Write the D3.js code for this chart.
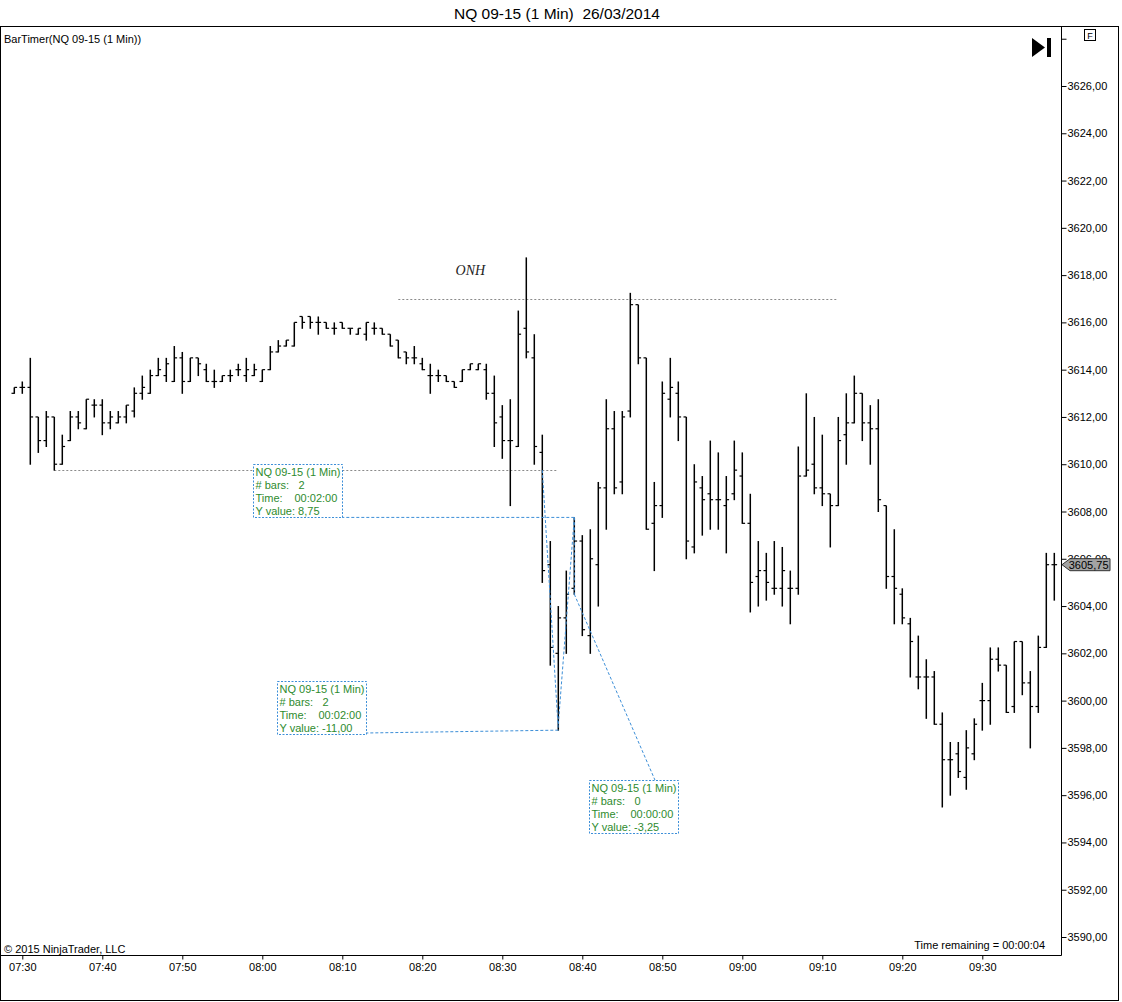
<!DOCTYPE html>
<html><head><meta charset="utf-8">
<script src="https://cdn.jsdelivr.net/npm/d3@7"></script>
<style>
html,body{margin:0;padding:0;background:#fff;}
svg{display:block;font-family:"Liberation Sans",Arial,sans-serif;}
</style></head><body>
<svg id="chart" width="1122" height="1002"></svg>
<script>
// ---------- DATA ----------
const chartTitle = "NQ 09-15 (1 Min)  26/03/2014";
const indicatorLabel = "BarTimer(NQ 09-15 (1 Min))";
const copyrightLabel = "© 2015 NinjaTrader, LLC";
const timerLabel = "Time remaining = 00:00:04";
const instrument = "NQ 09-15 (1 Min)";

const times = ["07:29","07:30","07:31","07:32","07:33","07:34","07:35","07:36","07:37","07:38","07:39",
"07:40","07:41","07:42","07:43","07:44","07:45","07:46","07:47","07:48","07:49",
"07:50","07:51","07:52","07:53","07:54","07:55","07:56","07:57","07:58","07:59",
"08:00","08:01","08:02","08:03","08:04","08:05","08:06","08:07","08:08","08:09",
"08:10","08:11","08:12","08:13","08:14","08:15","08:16","08:17","08:18","08:19",
"08:20","08:21","08:22","08:23","08:24","08:25","08:26","08:27","08:28","08:29",
"08:30","08:31","08:32","08:33","08:34","08:35","08:36","08:37","08:38","08:39",
"08:40","08:41","08:42","08:43","08:44","08:45","08:46","08:47","08:48","08:49",
"08:50","08:51","08:52","08:53","08:54","08:55","08:56","08:57","08:58","08:59",
"09:00","09:01","09:02","09:03","09:04","09:05","09:06","09:07","09:08","09:09",
"09:10","09:11","09:12","09:13","09:14","09:15","09:16","09:17","09:18","09:19",
"09:20","09:21","09:22","09:23","09:24","09:25","09:26","09:27","09:28","09:29",
"09:30","09:31","09:32","09:33","09:34","09:35","09:36","09:37","09:38","09:39"];

const opens = [3613.0,3613.25,3613.25,3612.0,3611.0,3612.0,3610.0,3611.0,3612.0,3611.5,3612.5,
3612.5,3611.75,3611.75,3612.0,3612.25,3613.0,3613.0,3613.75,3613.75,3613.5,
3614.5,3613.5,3614.5,3614.0,3613.5,3613.5,3613.75,3614.0,3613.75,3613.75,
3613.5,3614.0,3614.75,3615.0,3615.0,3616.25,3616.25,3616.0,3616.0,3615.75,
3616.0,3615.75,3615.5,3615.5,3615.75,3615.75,3615.5,3615.25,3614.75,3614.5,
3614.25,3613.75,3613.75,3613.75,3613.5,3613.5,3614.0,3614.0,3614.0,3613.0,
3612.0,3611.0,3610.75,3615.75,3614.5,3610.5,3605.75,3602.0,3603.5,3604.75,
3606.75,3602.75,3605.75,3609.0,3611.5,3609.25,3612.25,3616.75,3614.5,3607.5,
3608.25,3612.75,3613.0,3612.0,3606.5,3609.0,3608.75,3608.5,3608.25,3608.75,
3609.5,3607.5,3605.25,3605.5,3604.75,3604.75,3604.75,3604.75,3609.5,3610.0,
3609.0,3608.75,3608.25,3611.25,3611.75,3613.0,3611.75,3611.5,3608.25,3605.25,
3604.5,3603.25,3601.0,3601.0,3601.0,3599.0,3597.5,3597.75,3596.75,3597.75,
3600.0,3600.0,3601.75,3601.5,3599.75,3602.5,3600.75,3599.75,3602.25,3605.75];

const highs = [3613.25,3613.5,3614.5,3612.0,3612.25,3612.0,3611.25,3612.25,3612.25,3612.75,3612.75,
3612.75,3612.25,3612.25,3612.5,3613.25,3613.75,3614.0,3614.5,3614.5,3615.0,
3614.75,3614.5,3614.5,3614.25,3614.0,3613.75,3614.0,3614.25,3614.5,3614.25,
3614.0,3615.0,3615.25,3615.25,3616.0,3616.25,3616.25,3616.25,3616.0,3616.0,
3616.0,3615.75,3615.75,3616.0,3616.0,3615.75,3615.5,3615.25,3614.75,3615.0,
3614.5,3614.25,3614.0,3613.75,3613.5,3614.0,3614.25,3614.25,3614.25,3613.75,
3612.5,3612.75,3616.5,3618.75,3615.5,3611.25,3606.75,3604.0,3605.5,3607.75,
3607.0,3607.25,3609.25,3612.75,3612.25,3612.25,3617.25,3616.75,3614.5,3609.25,
3613.5,3614.5,3613.5,3612.0,3610.0,3609.5,3611.0,3610.5,3609.5,3611.0,
3610.5,3608.75,3606.75,3606.25,3606.75,3606.5,3605.5,3610.75,3613.0,3612.0,
3611.25,3608.75,3612.0,3613.0,3613.75,3613.0,3612.5,3612.75,3608.25,3607.25,
3604.75,3603.5,3602.75,3601.75,3601.25,3599.5,3598.25,3598.25,3598.75,3599.25,
3600.75,3602.25,3602.25,3601.5,3602.5,3602.5,3601.25,3602.75,3606.25,3606.25];

const lows = [3613.0,3613.0,3610.0,3610.5,3610.75,3609.75,3610.0,3611.0,3611.5,3611.5,3612.0,
3611.25,3611.5,3611.75,3611.75,3612.0,3612.75,3613.0,3613.75,3613.5,3613.5,
3613.0,3613.5,3613.75,3613.5,3613.25,3613.5,3613.5,3613.75,3613.5,3613.75,
3613.5,3614.0,3614.75,3615.0,3615.0,3615.75,3615.75,3615.5,3615.75,3615.5,
3615.75,3615.5,3615.5,3615.25,3615.5,3615.5,3615.0,3614.5,3614.25,3614.25,
3614.0,3613.0,3613.5,3613.5,3613.25,3613.5,3614.0,3614.0,3612.75,3610.75,
3610.25,3608.25,3610.75,3614.5,3610.0,3605.0,3601.5,3598.75,3602.0,3604.5,
3602.75,3602.0,3604.0,3607.25,3608.75,3608.75,3612.0,3614.25,3607.25,3605.5,
3607.75,3612.0,3611.0,3606.0,3606.25,3607.0,3607.25,3607.25,3606.25,3608.5,
3607.5,3603.75,3604.0,3604.25,3604.5,3604.0,3603.25,3604.5,3609.5,3608.75,
3608.25,3606.5,3608.25,3610.0,3611.75,3611.0,3610.0,3608.0,3604.75,3603.25,
3603.25,3601.0,3600.5,3599.25,3599.0,3595.5,3596.0,3596.75,3596.25,3597.5,
3598.75,3599.0,3601.25,3599.5,3599.5,3600.25,3598.0,3599.5,3602.25,3604.25];

const closes = [3613.25,3613.25,3612.0,3611.0,3612.0,3610.0,3610.75,3612.0,3611.75,3612.75,3612.5,
3611.75,3612.0,3612.0,3612.5,3613.0,3613.25,3613.75,3614.0,3614.25,3614.5,
3613.5,3614.5,3614.25,3613.5,3613.5,3613.75,3613.75,3614.0,3614.0,3614.0,
3614.0,3614.75,3615.0,3615.25,3616.0,3616.0,3616.0,3616.0,3615.75,3615.75,
3615.75,3615.75,3615.75,3616.0,3615.75,3615.5,3615.0,3614.5,3614.5,3614.5,
3614.0,3613.75,3613.75,3613.5,3613.25,3614.0,3614.25,3614.25,3613.0,3611.75,
3611.0,3611.0,3615.5,3614.75,3610.75,3605.5,3602.25,3603.5,3604.5,3606.75,
3603.0,3606.0,3609.0,3611.5,3609.0,3612.0,3616.75,3614.5,3607.25,3608.25,
3613.0,3613.25,3612.0,3606.75,3609.25,3608.5,3608.5,3608.5,3608.5,3609.75,
3607.5,3605.0,3605.5,3605.0,3604.75,3605.5,3604.75,3609.5,3609.75,3609.0,
3608.75,3608.25,3611.0,3611.75,3613.0,3611.75,3611.5,3608.5,3605.25,3604.75,
3603.5,3602.5,3601.0,3601.0,3599.0,3597.5,3597.5,3597.0,3598.0,3599.0,
3600.0,3601.75,3601.5,3599.5,3602.5,3600.75,3599.75,3602.25,3605.75,3605.75];

const priceTicks = [3590,3592,3594,3596,3598,3600,3602,3604,3606,3608,3610,3612,3614,3616,3618,3620,3622,3624,3626,3628];
const timeTicks = ["07:30","07:40","07:50","08:00","08:10","08:20","08:30","08:40","08:50","09:00","09:10","09:20","09:30"];
const lastPrice = 3605.75;

// horizontal level lines: [start, end, price]
const levelStarts = ["08:17","07:34"];
const levelEnds = ["09:12","08:37"];
const levelPrices = [3617.0, 3609.75];
const onhLabel = "ONH", onhLabelTime = "08:26", onhLabelPrice = 3618.0;

// rulers
const rulerStartTimes = ["08:37","08:35","08:39"];
const rulerStartPrices = [3599.0, 3609.75, 3607.75];
const rulerEndTimes = ["08:39","08:37","08:39"];
const rulerEndPrices = [3607.75, 3598.75, 3604.5];
const rulerTextTimes = ["08:09:58","08:12:58","08:49:05"];
const rulerTextPrices = [3607.75, 3598.63, 3596.64];

// ---------- LAYOUT ----------
const frame = {left:0.5, top:26.5, right:1118.5, bottom:1000.5, plotBottom:955.5, axisX:1061.5};
const boxW = 89, boxH = 53;
const boxOffsets = [[-89,-53],[-89,-52],[-66,0]];
const barColor = "#000";
const rulerColor = "#3d8fd8";
const rulerText = "#2e8b2e";
const levelColor = "#8a8a8a";

const svg = d3.select("#chart");
const pT = d3.timeParse("%H:%M");
const pTS = d3.timeParse("%H:%M:%S");
const parseT = s => s.length > 5 ? pTS(s) : pT(s);

const x = d3.scaleTime().domain([pT("07:30"), pT("09:39")]).range([22.3, 1054.3]);
const y = d3.scaleLinear().domain([3590, 3626]).range([937, 86]);

// title
svg.append("text").attr("x", 557).attr("y", 19).attr("text-anchor","middle")
  .attr("font-size", 15.5).attr("fill","#000").style("white-space","pre").text(chartTitle);

// frame
svg.append("rect").attr("x",frame.left).attr("y",frame.top)
  .attr("width",frame.right-frame.left).attr("height",frame.bottom-frame.top)
  .attr("fill","none").attr("stroke","#000").attr("stroke-width",1);
svg.append("line").attr("x1",frame.left).attr("x2",frame.axisX).attr("y1",frame.plotBottom).attr("y2",frame.plotBottom)
  .attr("stroke","#000");
svg.append("line").attr("x1",frame.axisX).attr("x2",frame.axisX).attr("y1",frame.top).attr("y2",frame.plotBottom)
  .attr("stroke","#000");

// y axis
const yAxis = d3.axisRight(y).tickValues(priceTicks).tickSize(5).tickPadding(1)
  .tickFormat(d => d >= 3628 ? "" : d.toFixed(2).replace(".", ","));
const yg = svg.append("g").attr("transform",`translate(${frame.axisX},0)`).call(yAxis);
yg.select(".domain").remove();
yg.selectAll("text").attr("font-size",11).attr("font-family","'Liberation Sans',Arial,sans-serif").attr("fill","#000");
yg.selectAll("line").attr("stroke","#000");

// x axis
const xAxis = d3.axisBottom(x).tickValues(timeTicks.map(pT)).tickSize(4).tickPadding(4)
  .tickFormat(d3.timeFormat("%H:%M"));
const xg = svg.append("g").attr("transform",`translate(0,${frame.plotBottom})`).call(xAxis);
xg.select(".domain").remove();
xg.selectAll("text").attr("font-size",11).attr("font-family","'Liberation Sans',Arial,sans-serif").attr("fill","#000");
xg.selectAll("line").attr("stroke","#000");

// texts in panel
svg.append("text").attr("x",4).attr("y",43).attr("font-size",11).attr("fill","#000").text(indicatorLabel);
svg.append("text").attr("x",4).attr("y",953).attr("font-size",11).attr("fill","#000").text(copyrightLabel);
svg.append("text").attr("x",1045).attr("y",949).attr("text-anchor","end").attr("font-size",11).attr("fill","#000").text(timerLabel);

// F box
svg.append("rect").attr("x",1084.5).attr("y",29.5).attr("width",11).attr("height",11)
  .attr("fill","#fff").attr("stroke","#000");
svg.append("text").attr("x",1090).attr("y",38.5).attr("text-anchor","middle").attr("font-size",9).text("F");

// play-to-end icon
svg.append("path").attr("d","M1032,38 L1045,47.5 L1032,57 Z").attr("fill","#000");
svg.append("rect").attr("x",1047).attr("y",38).attr("width",4).attr("height",19).attr("fill","#000");

// level lines
const levels = levelStarts.map((s,i)=>({s:pT(s), e:pT(levelEnds[i]), p:levelPrices[i]}));
svg.append("g").selectAll("line").data(levels).join("line")
  .attr("x1",d=>x(d.s)).attr("x2",d=>x(d.e)).attr("y1",d=>Math.round(y(d.p))+0.5).attr("y2",d=>Math.round(y(d.p))+0.5)
  .attr("stroke",levelColor).attr("stroke-width",1).attr("stroke-dasharray","2,2");
svg.append("text").attr("x",x(pT(onhLabelTime))).attr("y",y(onhLabelPrice)).attr("text-anchor","middle")
  .attr("font-family","'Liberation Serif','DejaVu Serif',serif").attr("font-style","italic")
  .attr("font-size",14).attr("fill","#222").text(onhLabel);

// bars
const bars = times.map((t,i)=>({t:pT(t), o:opens[i], h:highs[i], l:lows[i], c:closes[i]}));
const bg = svg.append("g").attr("stroke",barColor);
bg.selectAll("line.hl").data(bars).join("line").attr("class","hl")
  .attr("x1",d=>x(d.t)).attr("x2",d=>x(d.t)).attr("y1",d=>y(d.h)).attr("y2",d=>y(d.l)+0.5)
  .attr("stroke-width",1.5);
bg.selectAll("line.op").data(bars).join("line").attr("class","op")
  .attr("x1",d=>x(d.t)-2.8).attr("x2",d=>x(d.t)).attr("y1",d=>y(d.o)).attr("y2",d=>y(d.o))
  .attr("stroke-width",1.2);
bg.selectAll("line.cl").data(bars).join("line").attr("class","cl")
  .attr("x1",d=>x(d.t)).attr("x2",d=>x(d.t)+2.8).attr("y1",d=>y(d.c)).attr("y2",d=>y(d.c))
  .attr("stroke-width",1.2);

// rulers
const fmtNum = v => v.toFixed(2).replace(".", ",");
const pad = n => String(n).padStart(2,"0");
const rulers = rulerStartTimes.map((s,i)=>{
  const st = pT(s), et = pT(rulerEndTimes[i]);
  const nb = Math.round((et - st)/60000);
  return {st, sp:rulerStartPrices[i], et, ep:rulerEndPrices[i],
          at:parseT(rulerTextTimes[i]), ap:rulerTextPrices[i], nb,
          time:`${pad(Math.floor(nb/60))}:${pad(nb%60)}:00`, yv:fmtNum(rulerEndPrices[i]-rulerStartPrices[i]), off:boxOffsets[i]};
});
const rg = svg.append("g");
rulers.forEach(r=>{
  rg.append("line").attr("x1",x(r.st)).attr("y1",y(r.sp)).attr("x2",x(r.et)).attr("y2",y(r.ep))
    .attr("stroke",rulerColor).attr("stroke-dasharray","3,2").attr("stroke-width",1);
  const ax = x(r.at), ay = y(r.ap);
  rg.append("line").attr("x1",x(r.et)).attr("y1",y(r.ep)).attr("x2",ax).attr("y2",ay)
    .attr("stroke",rulerColor).attr("stroke-dasharray","3,2").attr("stroke-width",1);
  const bx = Math.round(ax + r.off[0]) + 0.5, by = Math.round(ay + r.off[1]) + 0.5;
  rg.append("rect").attr("x",bx).attr("y",by).attr("width",boxW).attr("height",boxH)
    .attr("fill","#fff").attr("stroke",rulerColor).attr("stroke-dasharray","2,1.5");
  const tg = rg.append("g").attr("font-size",11).attr("fill",rulerText);
  tg.append("text").attr("x",bx+2).attr("y",by+11).text(instrument);
  tg.append("text").attr("x",bx+2).attr("y",by+24).text("# bars:");
  tg.append("text").attr("x",bx+45).attr("y",by+24).text(r.nb);
  tg.append("text").attr("x",bx+2).attr("y",by+37).text("Time:");
  tg.append("text").attr("x",bx+41).attr("y",by+37).text(r.time);
  tg.append("text").attr("x",bx+2).attr("y",by+50).text("Y value: " + r.yv);
});

// last price marker
const ly = y(lastPrice);
const mk = svg.append("g");
mk.append("path").attr("d",`M${frame.axisX+0.5},${ly} L${frame.axisX+8.5},${ly-6} L1110,${ly-6} L1110,${ly+6} L${frame.axisX+8.5},${ly+6} Z`)
  .attr("fill","#a3a3a3").attr("stroke","#333").attr("stroke-width",1);
mk.append("text").attr("x",1108.5).attr("y",ly+4).attr("text-anchor","end").attr("font-size",11).attr("fill","#000")
  .text(fmtNum(lastPrice));
</script>
</body></html>
